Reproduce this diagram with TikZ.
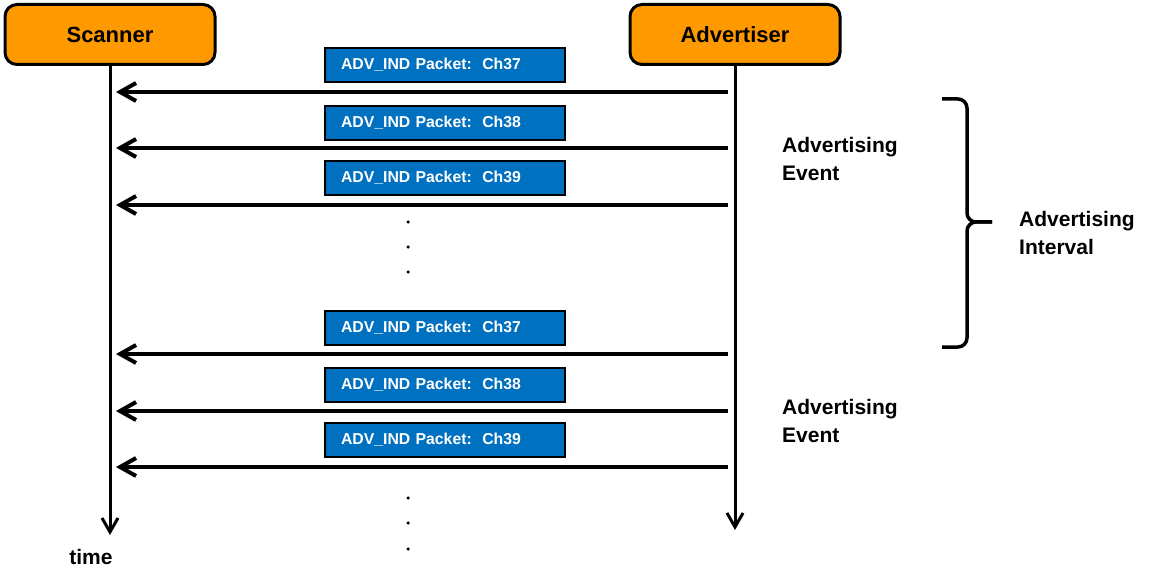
\documentclass[tikz,border=0pt]{standalone}
\usepackage{fontspec}
\setmainfont{Liberation Sans}
\usetikzlibrary{arrows.meta}
\definecolor{orng}{HTML}{FF9900}
\definecolor{pblue}{HTML}{0070C0}
\begin{document}
\begin{tikzpicture}[x=1pt,y=-1pt,
  actor/.style={draw=black, line width=3pt, fill=orng, rounded corners=12pt,
    minimum width=210pt, minimum height=60pt, inner sep=0pt,
    font=\bfseries\fontsize{22}{26}\selectfont},
  pkt/.style={draw=black, line width=1.5pt, fill=pblue, text=white,
    text width=208pt, inner xsep=16pt, inner ysep=0pt, minimum height=34pt, align=left,
    font=\bfseries\fontsize{15.8}{18}\selectfont},
  msg/.style={line width=4pt, -{Straight Barb[length=16pt,width=18pt,line width=4pt]}},
  life/.style={line width=3pt, -{Straight Barb[length=14pt,width=16pt,line width=3pt]}},
  lbl/.style={anchor=north west, inner sep=0pt, align=left,
    font=\bfseries\fontsize{21}{28}\selectfont},
  dot/.style={circle, fill=black, inner sep=0pt, minimum size=3.5pt},
  brace/.style={line width=3.5pt, rounded corners=9pt}
]
\useasboundingbox (0,0) rectangle (1167,580);

% actors
\node[actor] (scan) at (110,34.5) {Scanner};
\node[actor] (adv) at (735,34.5) {Advertiser};

% lifelines
\coordinate (scanend) at (110,535);
\coordinate (advend) at (735,530);
\draw[life] (scan.south) -- (scanend);
\draw[life] (adv.south) -- (advend);
\node[font=\bfseries\fontsize{21}{24}\selectfont] (time) at (91,557) {time};

% messages
\foreach \i/\y in {1/92,2/148,3/205,4/354,5/411,6/467}{
  \coordinate (a\i) at (728,\y);
  \coordinate (s\i) at (116,\y);
  \draw[msg] (a\i) -- (s\i);
}

% packet labels
\node[pkt] (p1) at (445,65)  {ADV\_IND Packet:\, Ch37};
\node[pkt] (p2) at (445,123) {ADV\_IND Packet:\, Ch38};
\node[pkt] (p3) at (445,178) {ADV\_IND Packet:\, Ch39};
\node[pkt] (p4) at (445,328) {ADV\_IND Packet:\, Ch37};
\node[pkt] (p5) at (445,385) {ADV\_IND Packet:\, Ch38};
\node[pkt] (p6) at (445,440) {ADV\_IND Packet:\, Ch39};

% dots
\node[dot] (d1) at (408,222) {};
\node[dot] (d2) at (408,247) {};
\node[dot] (d3) at (408,272) {};
\node[dot] (d4) at (408,498) {};
\node[dot] (d5) at (408,523) {};
\node[dot] (d6) at (408,549) {};

% labels
\node[lbl] (ev1) at (782,137) {Advertising\\Event};
\node[lbl] (ev2) at (782,399) {Advertising\\Event};
\node[lbl] (intv) at (1019,211) {Advertising\\Interval};

% brace
\draw[brace] (942,99) -- (967,99) -- (967,222) -- (992,222);
\draw[brace] (992,222) -- (967,222) -- (967,347) -- (942,347);
\end{tikzpicture}
\end{document}
